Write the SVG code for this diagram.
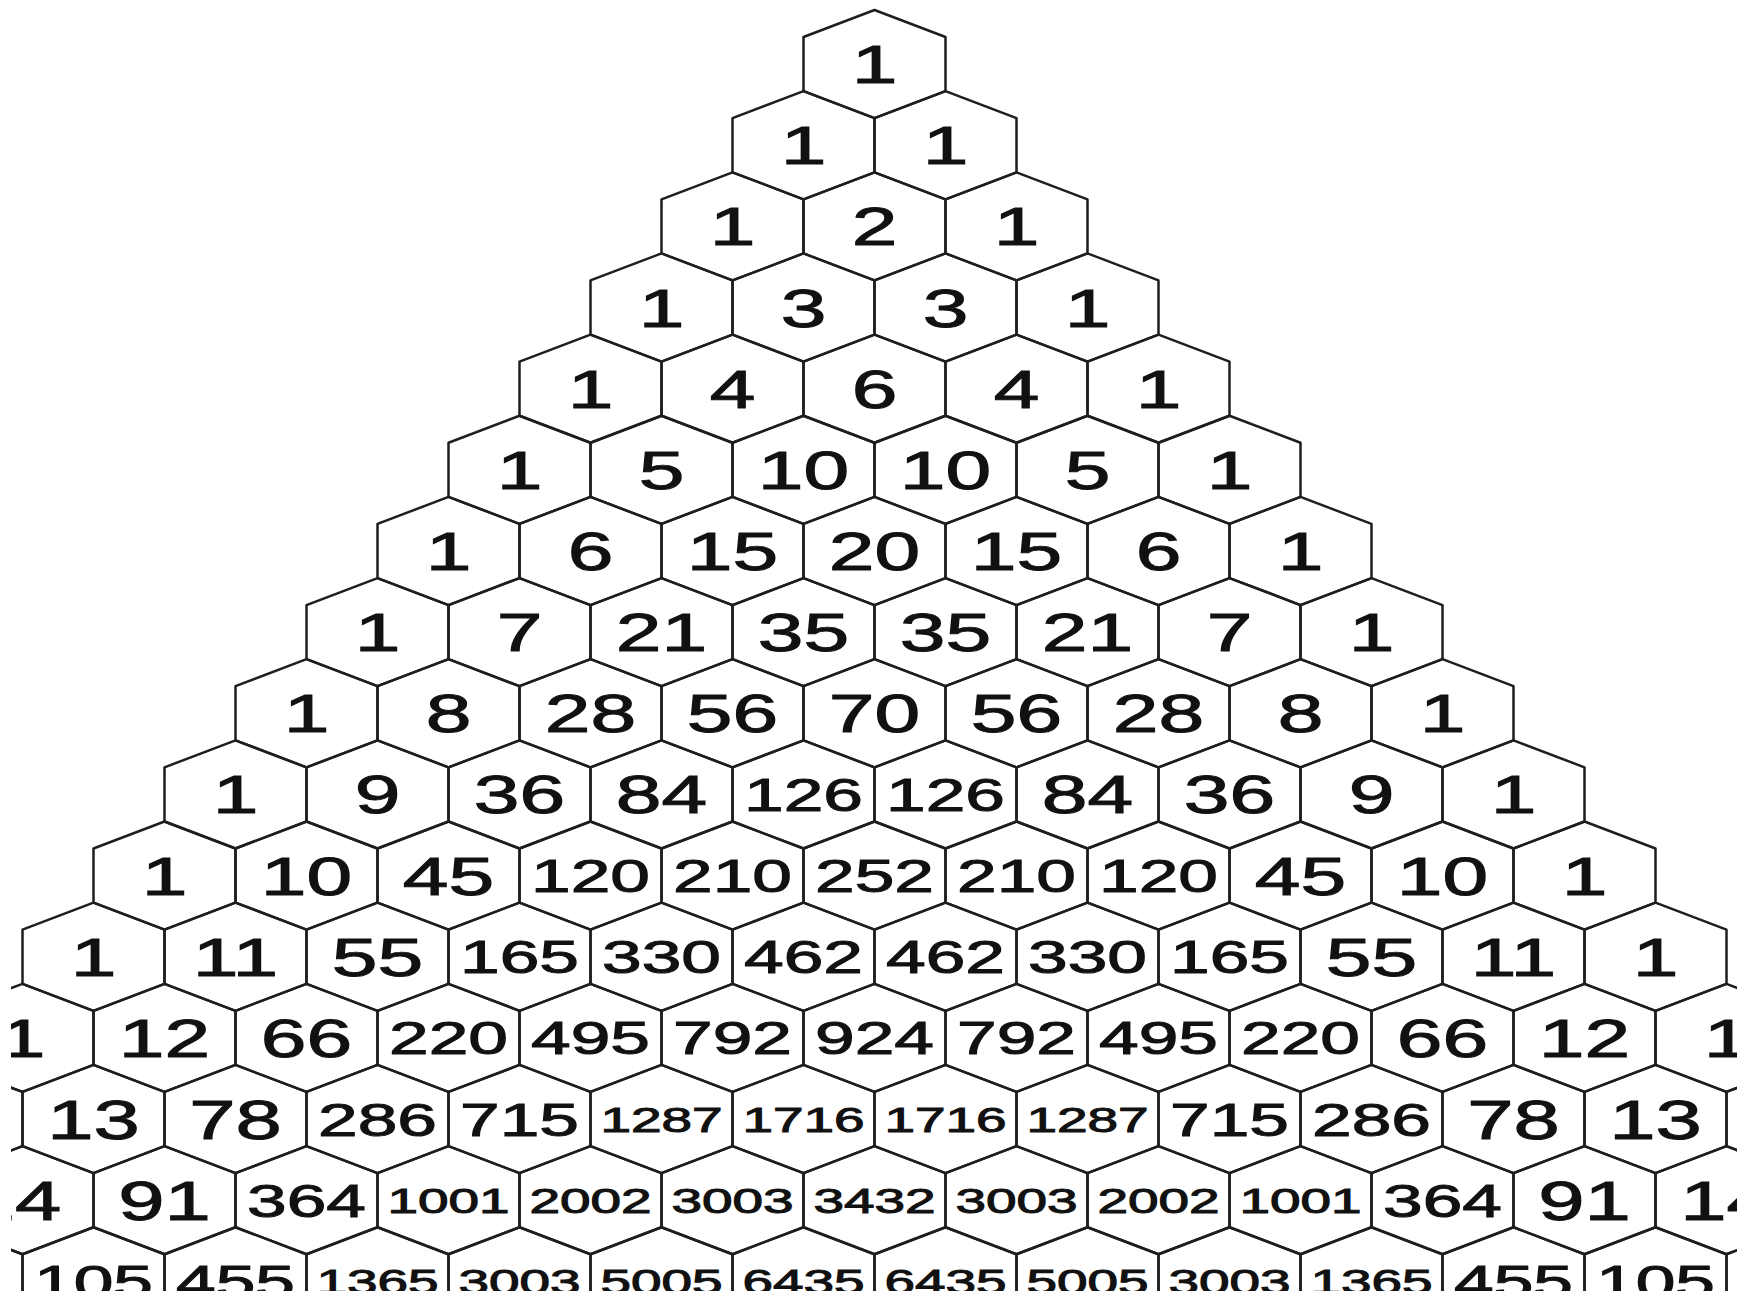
<svg xmlns="http://www.w3.org/2000/svg" xmlns:xlink="http://www.w3.org/1999/xlink" width="1742" height="1295" viewBox="0 0 1742 1295">
<defs>
<style>
text{font-family:"Liberation Sans",Arial,Helvetica,sans-serif;fill:#111;stroke:#111;stroke-width:1;text-anchor:middle}
.a{font-size:53px}
.b{font-size:55.5px}
.c{font-size:46px}
.d{font-size:35px}
.hex{fill:none;stroke:#1e1e1e;stroke-width:2.5;stroke-linejoin:round}
</style>
<polygon id="hex" class="hex" points="0,0 71,27 71,81.15 0,108.15 -71,81.15 -71,27"/>
<clipPath id="clip"><rect x="11" y="0" width="1726" height="1291"/></clipPath>
</defs>
<rect width="1742" height="1295" fill="#fff"/>
<g id="nodes" clip-path="url(#clip)">
<g id="n0_0" transform="translate(874.5 10)"><use href="#hex"/><text class="a" y="73.1" transform="scale(1.55 1)">1</text></g>

<g id="n1_0" transform="translate(803.5 91.15)"><use href="#hex"/><text class="a" y="73.1" transform="scale(1.55 1)">1</text></g>
<g id="n1_1" transform="translate(945.5 91.15)"><use href="#hex"/><text class="a" y="73.1" transform="scale(1.55 1)">1</text></g>

<g id="n2_0" transform="translate(732.5 172.3)"><use href="#hex"/><text class="a" y="73.1" transform="scale(1.55 1)">1</text></g>
<g id="n2_1" transform="translate(874.5 172.3)"><use href="#hex"/><text class="a" y="73.1" transform="scale(1.55 1)">2</text></g>
<g id="n2_2" transform="translate(1016.5 172.3)"><use href="#hex"/><text class="a" y="73.1" transform="scale(1.55 1)">1</text></g>

<g id="n3_0" transform="translate(661.5 253.45)"><use href="#hex"/><text class="a" y="73.1" transform="scale(1.55 1)">1</text></g>
<g id="n3_1" transform="translate(803.5 253.45)"><use href="#hex"/><text class="a" y="73.1" transform="scale(1.55 1)">3</text></g>
<g id="n3_2" transform="translate(945.5 253.45)"><use href="#hex"/><text class="a" y="73.1" transform="scale(1.55 1)">3</text></g>
<g id="n3_3" transform="translate(1087.5 253.45)"><use href="#hex"/><text class="a" y="73.1" transform="scale(1.55 1)">1</text></g>

<g id="n4_0" transform="translate(590.5 334.6)"><use href="#hex"/><text class="a" y="73.1" transform="scale(1.55 1)">1</text></g>
<g id="n4_1" transform="translate(732.5 334.6)"><use href="#hex"/><text class="a" y="73.1" transform="scale(1.55 1)">4</text></g>
<g id="n4_2" transform="translate(874.5 334.6)"><use href="#hex"/><text class="a" y="73.1" transform="scale(1.55 1)">6</text></g>
<g id="n4_3" transform="translate(1016.5 334.6)"><use href="#hex"/><text class="a" y="73.1" transform="scale(1.55 1)">4</text></g>
<g id="n4_4" transform="translate(1158.5 334.6)"><use href="#hex"/><text class="a" y="73.1" transform="scale(1.55 1)">1</text></g>

<g id="n5_0" transform="translate(519.5 415.75)"><use href="#hex"/><text class="a" y="73.1" transform="scale(1.55 1)">1</text></g>
<g id="n5_1" transform="translate(661.5 415.75)"><use href="#hex"/><text class="a" y="73.1" transform="scale(1.55 1)">5</text></g>
<g id="n5_2" transform="translate(803.5 415.75)"><use href="#hex"/><text class="a" y="73.1" transform="scale(1.55 1)">10</text></g>
<g id="n5_3" transform="translate(945.5 415.75)"><use href="#hex"/><text class="a" y="73.1" transform="scale(1.55 1)">10</text></g>
<g id="n5_4" transform="translate(1087.5 415.75)"><use href="#hex"/><text class="a" y="73.1" transform="scale(1.55 1)">5</text></g>
<g id="n5_5" transform="translate(1229.5 415.75)"><use href="#hex"/><text class="a" y="73.1" transform="scale(1.55 1)">1</text></g>

<g id="n6_0" transform="translate(448.5 496.9)"><use href="#hex"/><text class="a" y="73.1" transform="scale(1.55 1)">1</text></g>
<g id="n6_1" transform="translate(590.5 496.9)"><use href="#hex"/><text class="a" y="73.1" transform="scale(1.55 1)">6</text></g>
<g id="n6_2" transform="translate(732.5 496.9)"><use href="#hex"/><text class="a" y="73.1" transform="scale(1.55 1)">15</text></g>
<g id="n6_3" transform="translate(874.5 496.9)"><use href="#hex"/><text class="a" y="73.1" transform="scale(1.55 1)">20</text></g>
<g id="n6_4" transform="translate(1016.5 496.9)"><use href="#hex"/><text class="a" y="73.1" transform="scale(1.55 1)">15</text></g>
<g id="n6_5" transform="translate(1158.5 496.9)"><use href="#hex"/><text class="a" y="73.1" transform="scale(1.55 1)">6</text></g>
<g id="n6_6" transform="translate(1300.5 496.9)"><use href="#hex"/><text class="a" y="73.1" transform="scale(1.55 1)">1</text></g>

<g id="n7_0" transform="translate(377.5 578.05)"><use href="#hex"/><text class="a" y="73.1" transform="scale(1.55 1)">1</text></g>
<g id="n7_1" transform="translate(519.5 578.05)"><use href="#hex"/><text class="a" y="73.1" transform="scale(1.55 1)">7</text></g>
<g id="n7_2" transform="translate(661.5 578.05)"><use href="#hex"/><text class="a" y="73.1" transform="scale(1.55 1)">21</text></g>
<g id="n7_3" transform="translate(803.5 578.05)"><use href="#hex"/><text class="a" y="73.1" transform="scale(1.55 1)">35</text></g>
<g id="n7_4" transform="translate(945.5 578.05)"><use href="#hex"/><text class="a" y="73.1" transform="scale(1.55 1)">35</text></g>
<g id="n7_5" transform="translate(1087.5 578.05)"><use href="#hex"/><text class="a" y="73.1" transform="scale(1.55 1)">21</text></g>
<g id="n7_6" transform="translate(1229.5 578.05)"><use href="#hex"/><text class="a" y="73.1" transform="scale(1.55 1)">7</text></g>
<g id="n7_7" transform="translate(1371.5 578.05)"><use href="#hex"/><text class="a" y="73.1" transform="scale(1.55 1)">1</text></g>

<g id="n8_0" transform="translate(306.5 659.2)"><use href="#hex"/><text class="a" y="73.1" transform="scale(1.55 1)">1</text></g>
<g id="n8_1" transform="translate(448.5 659.2)"><use href="#hex"/><text class="a" y="73.1" transform="scale(1.55 1)">8</text></g>
<g id="n8_2" transform="translate(590.5 659.2)"><use href="#hex"/><text class="a" y="73.1" transform="scale(1.55 1)">28</text></g>
<g id="n8_3" transform="translate(732.5 659.2)"><use href="#hex"/><text class="a" y="73.1" transform="scale(1.55 1)">56</text></g>
<g id="n8_4" transform="translate(874.5 659.2)"><use href="#hex"/><text class="a" y="73.1" transform="scale(1.55 1)">70</text></g>
<g id="n8_5" transform="translate(1016.5 659.2)"><use href="#hex"/><text class="a" y="73.1" transform="scale(1.55 1)">56</text></g>
<g id="n8_6" transform="translate(1158.5 659.2)"><use href="#hex"/><text class="a" y="73.1" transform="scale(1.55 1)">28</text></g>
<g id="n8_7" transform="translate(1300.5 659.2)"><use href="#hex"/><text class="a" y="73.1" transform="scale(1.55 1)">8</text></g>
<g id="n8_8" transform="translate(1442.5 659.2)"><use href="#hex"/><text class="a" y="73.1" transform="scale(1.55 1)">1</text></g>

<g id="n9_0" transform="translate(235.5 740.35)"><use href="#hex"/><text class="a" y="73.1" transform="scale(1.55 1)">1</text></g>
<g id="n9_1" transform="translate(377.5 740.35)"><use href="#hex"/><text class="a" y="73.1" transform="scale(1.55 1)">9</text></g>
<g id="n9_2" transform="translate(519.5 740.35)"><use href="#hex"/><text class="a" y="73.1" transform="scale(1.55 1)">36</text></g>
<g id="n9_3" transform="translate(661.5 740.35)"><use href="#hex"/><text class="a" y="73.1" transform="scale(1.55 1)">84</text></g>
<g id="n9_4" transform="translate(803.5 740.35)"><use href="#hex"/><text class="c" y="70.6" transform="scale(1.55 1)">126</text></g>
<g id="n9_5" transform="translate(945.5 740.35)"><use href="#hex"/><text class="c" y="70.6" transform="scale(1.55 1)">126</text></g>
<g id="n9_6" transform="translate(1087.5 740.35)"><use href="#hex"/><text class="a" y="73.1" transform="scale(1.55 1)">84</text></g>
<g id="n9_7" transform="translate(1229.5 740.35)"><use href="#hex"/><text class="a" y="73.1" transform="scale(1.55 1)">36</text></g>
<g id="n9_8" transform="translate(1371.5 740.35)"><use href="#hex"/><text class="a" y="73.1" transform="scale(1.55 1)">9</text></g>
<g id="n9_9" transform="translate(1513.5 740.35)"><use href="#hex"/><text class="a" y="73.1" transform="scale(1.55 1)">1</text></g>

<g id="n10_0" transform="translate(164.5 821.5)"><use href="#hex"/><text class="a" y="73.1" transform="scale(1.55 1)">1</text></g>
<g id="n10_1" transform="translate(306.5 821.5)"><use href="#hex"/><text class="a" y="73.1" transform="scale(1.55 1)">10</text></g>
<g id="n10_2" transform="translate(448.5 821.5)"><use href="#hex"/><text class="a" y="73.1" transform="scale(1.55 1)">45</text></g>
<g id="n10_3" transform="translate(590.5 821.5)"><use href="#hex"/><text class="c" y="70.6" transform="scale(1.55 1)">120</text></g>
<g id="n10_4" transform="translate(732.5 821.5)"><use href="#hex"/><text class="c" y="70.6" transform="scale(1.55 1)">210</text></g>
<g id="n10_5" transform="translate(874.5 821.5)"><use href="#hex"/><text class="c" y="70.6" transform="scale(1.55 1)">252</text></g>
<g id="n10_6" transform="translate(1016.5 821.5)"><use href="#hex"/><text class="c" y="70.6" transform="scale(1.55 1)">210</text></g>
<g id="n10_7" transform="translate(1158.5 821.5)"><use href="#hex"/><text class="c" y="70.6" transform="scale(1.55 1)">120</text></g>
<g id="n10_8" transform="translate(1300.5 821.5)"><use href="#hex"/><text class="a" y="73.1" transform="scale(1.55 1)">45</text></g>
<g id="n10_9" transform="translate(1442.5 821.5)"><use href="#hex"/><text class="a" y="73.1" transform="scale(1.55 1)">10</text></g>
<g id="n10_10" transform="translate(1584.5 821.5)"><use href="#hex"/><text class="a" y="73.1" transform="scale(1.55 1)">1</text></g>

<g id="n11_0" transform="translate(93.5 902.65)"><use href="#hex"/><text class="a" y="73.1" transform="scale(1.55 1)">1</text></g>
<g id="n11_1" transform="translate(235.5 902.65)"><use href="#hex"/><text class="a" y="73.1" transform="scale(1.55 1)">11</text></g>
<g id="n11_2" transform="translate(377.5 902.65)"><use href="#hex"/><text class="a" y="73.1" transform="scale(1.55 1)">55</text></g>
<g id="n11_3" transform="translate(519.5 902.65)"><use href="#hex"/><text class="c" y="70.6" transform="scale(1.55 1)">165</text></g>
<g id="n11_4" transform="translate(661.5 902.65)"><use href="#hex"/><text class="c" y="70.6" transform="scale(1.55 1)">330</text></g>
<g id="n11_5" transform="translate(803.5 902.65)"><use href="#hex"/><text class="c" y="70.6" transform="scale(1.55 1)">462</text></g>
<g id="n11_6" transform="translate(945.5 902.65)"><use href="#hex"/><text class="c" y="70.6" transform="scale(1.55 1)">462</text></g>
<g id="n11_7" transform="translate(1087.5 902.65)"><use href="#hex"/><text class="c" y="70.6" transform="scale(1.55 1)">330</text></g>
<g id="n11_8" transform="translate(1229.5 902.65)"><use href="#hex"/><text class="c" y="70.6" transform="scale(1.55 1)">165</text></g>
<g id="n11_9" transform="translate(1371.5 902.65)"><use href="#hex"/><text class="a" y="73.1" transform="scale(1.55 1)">55</text></g>
<g id="n11_10" transform="translate(1513.5 902.65)"><use href="#hex"/><text class="a" y="73.1" transform="scale(1.55 1)">11</text></g>
<g id="n11_11" transform="translate(1655.5 902.65)"><use href="#hex"/><text class="a" y="73.1" transform="scale(1.55 1)">1</text></g>

<g id="n12_0" transform="translate(22.5 983.8)"><use href="#hex"/><text class="a" y="73.1" transform="scale(1.55 1)">1</text></g>
<g id="n12_1" transform="translate(164.5 983.8)"><use href="#hex"/><text class="a" y="73.1" transform="scale(1.55 1)">12</text></g>
<g id="n12_2" transform="translate(306.5 983.8)"><use href="#hex"/><text class="a" y="73.1" transform="scale(1.55 1)">66</text></g>
<g id="n12_3" transform="translate(448.5 983.8)"><use href="#hex"/><text class="c" y="70.6" transform="scale(1.55 1)">220</text></g>
<g id="n12_4" transform="translate(590.5 983.8)"><use href="#hex"/><text class="c" y="70.6" transform="scale(1.55 1)">495</text></g>
<g id="n12_5" transform="translate(732.5 983.8)"><use href="#hex"/><text class="c" y="70.6" transform="scale(1.55 1)">792</text></g>
<g id="n12_6" transform="translate(874.5 983.8)"><use href="#hex"/><text class="c" y="70.6" transform="scale(1.55 1)">924</text></g>
<g id="n12_7" transform="translate(1016.5 983.8)"><use href="#hex"/><text class="c" y="70.6" transform="scale(1.55 1)">792</text></g>
<g id="n12_8" transform="translate(1158.5 983.8)"><use href="#hex"/><text class="c" y="70.6" transform="scale(1.55 1)">495</text></g>
<g id="n12_9" transform="translate(1300.5 983.8)"><use href="#hex"/><text class="c" y="70.6" transform="scale(1.55 1)">220</text></g>
<g id="n12_10" transform="translate(1442.5 983.8)"><use href="#hex"/><text class="a" y="73.1" transform="scale(1.55 1)">66</text></g>
<g id="n12_11" transform="translate(1584.5 983.8)"><use href="#hex"/><text class="a" y="73.1" transform="scale(1.55 1)">12</text></g>
<g id="n12_12" transform="translate(1726.5 983.8)"><use href="#hex"/><text class="a" y="73.1" transform="scale(1.55 1)">1</text></g>

<g id="n13_0" transform="translate(-48.5 1064.95)"><use href="#hex"/><text class="b" y="73.8" transform="scale(1.5 1)">1</text></g>
<g id="n13_1" transform="translate(93.5 1064.95)"><use href="#hex"/><text class="b" y="73.8" transform="scale(1.5 1)">13</text></g>
<g id="n13_2" transform="translate(235.5 1064.95)"><use href="#hex"/><text class="b" y="73.8" transform="scale(1.5 1)">78</text></g>
<g id="n13_3" transform="translate(377.5 1064.95)"><use href="#hex"/><text class="c" y="70.6" transform="scale(1.55 1)">286</text></g>
<g id="n13_4" transform="translate(519.5 1064.95)"><use href="#hex"/><text class="c" y="70.6" transform="scale(1.55 1)">715</text></g>
<g id="n13_5" transform="translate(661.5 1064.95)"><use href="#hex"/><text class="d" y="66.6" transform="scale(1.57 1)">1287</text></g>
<g id="n13_6" transform="translate(803.5 1064.95)"><use href="#hex"/><text class="d" y="66.6" transform="scale(1.57 1)">1716</text></g>
<g id="n13_7" transform="translate(945.5 1064.95)"><use href="#hex"/><text class="d" y="66.6" transform="scale(1.57 1)">1716</text></g>
<g id="n13_8" transform="translate(1087.5 1064.95)"><use href="#hex"/><text class="d" y="66.6" transform="scale(1.57 1)">1287</text></g>
<g id="n13_9" transform="translate(1229.5 1064.95)"><use href="#hex"/><text class="c" y="70.6" transform="scale(1.55 1)">715</text></g>
<g id="n13_10" transform="translate(1371.5 1064.95)"><use href="#hex"/><text class="c" y="70.6" transform="scale(1.55 1)">286</text></g>
<g id="n13_11" transform="translate(1513.5 1064.95)"><use href="#hex"/><text class="b" y="73.8" transform="scale(1.5 1)">78</text></g>
<g id="n13_12" transform="translate(1655.5 1064.95)"><use href="#hex"/><text class="b" y="73.8" transform="scale(1.5 1)">13</text></g>
<g id="n13_13" transform="translate(1797.5 1064.95)"><use href="#hex"/><text class="b" y="73.8" transform="scale(1.5 1)">1</text></g>

<g id="n14_1" transform="translate(22.5 1146.1)"><use href="#hex"/><text class="b" x="-5" y="73.8" transform="scale(1.5 1)">14</text></g>
<g id="n14_2" transform="translate(164.5 1146.1)"><use href="#hex"/><text class="b" y="73.8" transform="scale(1.5 1)">91</text></g>
<g id="n14_3" transform="translate(306.5 1146.1)"><use href="#hex"/><text class="c" y="70.6" transform="scale(1.55 1)">364</text></g>
<g id="n14_4" transform="translate(448.5 1146.1)"><use href="#hex"/><text class="d" y="66.6" transform="scale(1.57 1)">1001</text></g>
<g id="n14_5" transform="translate(590.5 1146.1)"><use href="#hex"/><text class="d" y="66.6" transform="scale(1.57 1)">2002</text></g>
<g id="n14_6" transform="translate(732.5 1146.1)"><use href="#hex"/><text class="d" y="66.6" transform="scale(1.57 1)">3003</text></g>
<g id="n14_7" transform="translate(874.5 1146.1)"><use href="#hex"/><text class="d" y="66.6" transform="scale(1.57 1)">3432</text></g>
<g id="n14_8" transform="translate(1016.5 1146.1)"><use href="#hex"/><text class="d" y="66.6" transform="scale(1.57 1)">3003</text></g>
<g id="n14_9" transform="translate(1158.5 1146.1)"><use href="#hex"/><text class="d" y="66.6" transform="scale(1.57 1)">2002</text></g>
<g id="n14_10" transform="translate(1300.5 1146.1)"><use href="#hex"/><text class="d" y="66.6" transform="scale(1.57 1)">1001</text></g>
<g id="n14_11" transform="translate(1442.5 1146.1)"><use href="#hex"/><text class="c" y="70.6" transform="scale(1.55 1)">364</text></g>
<g id="n14_12" transform="translate(1584.5 1146.1)"><use href="#hex"/><text class="b" y="73.8" transform="scale(1.5 1)">91</text></g>
<g id="n14_13" transform="translate(1726.5 1146.1)"><use href="#hex"/><text class="b" y="73.8" transform="scale(1.5 1)">14</text></g>

<g id="n15_1" transform="translate(-48.5 1227.25)"><use href="#hex"/><text class="b" y="73.8" transform="scale(1.5 1)">15</text></g>
<g id="n15_2" transform="translate(93.5 1227.25)"><use href="#hex"/><text class="c" y="70.6" transform="scale(1.55 1)">105</text></g>
<g id="n15_3" transform="translate(235.5 1227.25)"><use href="#hex"/><text class="c" y="70.6" transform="scale(1.55 1)">455</text></g>
<g id="n15_4" transform="translate(377.5 1227.25)"><use href="#hex"/><text class="d" y="66.6" transform="scale(1.57 1)">1365</text></g>
<g id="n15_5" transform="translate(519.5 1227.25)"><use href="#hex"/><text class="d" y="66.6" transform="scale(1.57 1)">3003</text></g>
<g id="n15_6" transform="translate(661.5 1227.25)"><use href="#hex"/><text class="d" y="66.6" transform="scale(1.57 1)">5005</text></g>
<g id="n15_7" transform="translate(803.5 1227.25)"><use href="#hex"/><text class="d" y="66.6" transform="scale(1.57 1)">6435</text></g>
<g id="n15_8" transform="translate(945.5 1227.25)"><use href="#hex"/><text class="d" y="66.6" transform="scale(1.57 1)">6435</text></g>
<g id="n15_9" transform="translate(1087.5 1227.25)"><use href="#hex"/><text class="d" y="66.6" transform="scale(1.57 1)">5005</text></g>
<g id="n15_10" transform="translate(1229.5 1227.25)"><use href="#hex"/><text class="d" y="66.6" transform="scale(1.57 1)">3003</text></g>
<g id="n15_11" transform="translate(1371.5 1227.25)"><use href="#hex"/><text class="d" y="66.6" transform="scale(1.57 1)">1365</text></g>
<g id="n15_12" transform="translate(1513.5 1227.25)"><use href="#hex"/><text class="c" y="70.6" transform="scale(1.55 1)">455</text></g>
<g id="n15_13" transform="translate(1655.5 1227.25)"><use href="#hex"/><text class="c" y="70.6" transform="scale(1.55 1)">105</text></g>
<g id="n15_14" transform="translate(1797.5 1227.25)"><use href="#hex"/><text class="b" y="73.8" transform="scale(1.5 1)">15</text></g>
</g>
</svg>
